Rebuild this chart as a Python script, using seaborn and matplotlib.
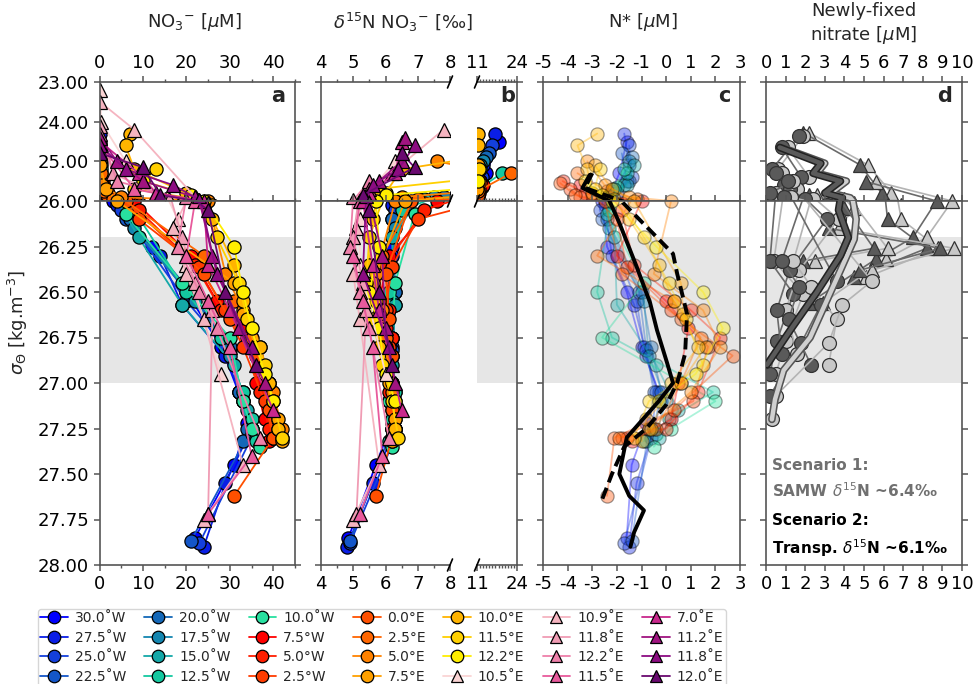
import numpy as np
import pandas as pd
import matplotlib
matplotlib.use("Agg")
import matplotlib.pyplot as plt
import matplotlib.patheffects as pe
from matplotlib.lines import Line2D
from matplotlib.ticker import MultipleLocator, FixedLocator
import seaborn as sns

nan = np.nan

# ---------------- data ----------------
LABELS = ["30.0˚W", "27.5˚W", "25.0˚W", "22.5˚W",
          "20.0˚W", "17.5˚W", "15.0˚W", "12.5˚W",
          "10.0˚W", "7.5°W", "5.0°W", "2.5°W",
          "0.0°E", "2.5°E", "5.0°E", "7.5°E",
          "10.0°E", "11.5°E", "12.2°E", "10.5˚E",
          "10.9˚E", "11.8˚E", "12.2˚E", "11.5˚E",
          "7.0˚E", "11.2˚E", "11.8˚E", "12.0˚E"]
COLORS = ["#0000ff", "#0a1ee6", "#1440dc", "#1456c8",
          "#1468b8", "#1486b0", "#14a8a8", "#14c8a0",
          "#28e0a0", "#ff0000", "#ff1e00", "#ff3c00",
          "#ff5000", "#ff6600", "#ff8200", "#ffa000",
          "#ffb400", "#ffd000", "#ffee00", "#fad4d4",
          "#f5b4c0", "#f09cb4", "#ee80aa", "#e85a9c",
          "#c8288c", "#a01480", "#8c0c82", "#6a0a70"]
MARKERS = ["o"] * 19 + ["^"] * 9

SIGMA = [
    [24.5, 25.3, 25.75, 26.0, 26.25, 26.5, 26.8, 27.05, 27.22, 27.45, 27.85],
    [24.3, 25.1, 25.7, 26.02, 26.3, 26.57, 26.85, 27.1, 27.25, 27.55, 27.9],
    [24.6, 25.4, 25.8, 26.05, 26.55, 26.8, 27.05, 27.3, 27.88],
    [24.8, 25.5, 25.85, 26.1, 26.5, 26.82, 27.05, 27.25, 27.87],
    [24.9, 25.5, 25.9, 26.1, 26.5, 26.8, 27.05, 27.25, 27.32],
    [25.0, 25.6, 25.9, 26.15, 26.55, 26.85, 27.1, 27.28],
    [25.1, 25.6, 25.95, 26.2, 26.57, 26.9, 27.15, 27.3],
    [25.3, 25.65, 26.05, 26.5, 26.75, 27.05, 27.2, 27.32],
    [25.2, 25.7, 26.07, 26.45, 26.75, 27.1, 27.25, 27.35],
    [25.6, 25.85, 26.0, 26.3, 26.55, 26.7, 27.0, 27.2, 27.32],
    [25.5, 25.8, 26.05, 26.35, 26.6, 26.75, 27.05, 27.25, 27.3],
    [25.7, 25.9, 26.1, 26.36, 26.6, 26.8, 27.1, 27.3],
    [25.55, 25.85, 26.0, 26.4, 26.65, 26.85, 27.15, 27.3, 27.62],
    [25.3, 25.75, 25.95, 26.3, 26.55, 26.75, 27.0, 27.25, 27.3],
    [25.0, 25.6, 25.9, 26.0, 26.4, 26.6, 26.8, 27.05, 27.25],
    [25.1, 25.7, 26.0, 26.45, 26.62, 26.8, 27.0, 27.2, 27.32],
    [24.3, 24.6, 25.2, 25.8, 26.1, 26.35, 26.55, 26.8, 27.0, 27.25],
    [25.2, 25.7, 25.95, 26.2, 26.45, 26.65, 26.9, 27.1, 27.3],
    [25.5, 25.85, 26.0, 26.25, 26.5, 26.7, 26.95, 27.1],
    [23.2, 24.0, 25.0, 25.95, 26.1, 26.35, 26.95],
    [23.5, 24.2, 25.9, 26.15, 26.4, 26.65, 27.45, 27.75],
    [24.1, 25.3, 25.95, 26.2, 26.45, 26.6, 27.72],
    [24.3, 25.5, 25.98, 26.25, 26.5, 26.7, 27.3],
    [24.6, 25.7, 26.0, 26.3, 26.55, 26.8, 27.4, 27.72],
    [24.5, 25.3, 25.8, 26.0, 26.35, 26.6, 27.15],
    [24.4, 25.0, 25.5, 25.9, 26.3, 26.7, 27.0],
    [24.6, 25.2, 25.6, 25.97, 26.4, 26.8],
    [24.8, 25.15, 25.85, 26.05, 26.5, 26.9],
]
NO3 = [
    [0.1, 0.3, 0.8, 3, 12, 20, 28, 32, 34, 31, 22],
    [0.1, 0.2, 0.6, 4, 14, 19, 29, 33, 35, 29, 24],
    [0.2, 0.3, 1.0, 5, 20, 29, 33, 35, 23],
    [0.1, 0.4, 1.2, 6, 21, 30, 32, 35, 21],
    [0.2, 0.5, 2, 7, 21, 30, 32, 34, 33],
    [0.3, 0.6, 2.5, 8, 22, 30, 33, 35],
    [0.3, 0.8, 3, 9, 19, 31, 34, 36],
    [0.2, 1.0, 8, 20, 28, 33, 35, 36],
    [0.3, 0.7, 6, 19, 30, 33, 35, 37],
    [0.5, 1.5, 8, 21, 27, 34, 36, 38, 39],
    [0.8, 2, 9, 22, 28, 34, 37, 39, 40],
    [1.2, 2.5, 9, 23, 29, 33, 38, 40],
    [0.5, 1.8, 6, 24, 30, 36, 39, 40, 31],
    [0.3, 1.0, 3, 24, 31, 35, 39, 41, 42],
    [0.2, 0.5, 5, 25, 29, 33, 37, 40, 42],
    [0.2, 1.5, 4, 31, 33, 36, 39, 41, 42],
    [7, 6, 8, 20, 26, 31, 33, 37, 39, 41],
    [13, 8, 22, 27, 32, 34, 38, 40, 42],
    [10, 21, 24, 31, 33, 35, 38, 40],
    [0.2, 0.3, 6, 15, 18, 20, 28],
    [0.1, 8, 22, 17, 20, 24, 33, 24],
    [0.1, 3, 16, 19, 22, 26, 25],
    [0.2, 4, 20, 18, 23, 27, 37],
    [0.3, 8, 22, 20, 25, 30, 35, 25],
    [0.1, 9, 13, 24, 25, 30, 40],
    [0.2, 4, 10, 22, 26, 32, 38],
    [0.1, 6, 17, 23, 27, 35],
    [0.2, 10, 14, 25, 29, 36],
]
D15N = [
    [18, 14, 9.5, 6.3, 6.2, 6.2, 6.1, 6.2, 6.2, 5.7, 4.85],
    [17, 13, 9, 6.2, 6.2, 6.3, 6.2, 6.1, 6.3, 5.6, 4.8],
    [16, 12.5, 8.5, 6.3, 6.2, 6.2, 6.2, 6.3, 4.9],
    [15, 12, 8.2, 6.2, 6.3, 6.2, 6.3, 6.2, 4.9],
    [14, 11.5, 7.8, 6.2, 6.3, 6.1, 6.2, 6.2, 6.2],
    [13, 11, 7.5, 6.3, 6.2, 6.2, 6.1, 6.3],
    [12, 11.5, 7.2, 6.2, 6.3, 6.2, 6.2, 6.2],
    [19, 12.5, 6.5, 6.1, 6.2, 6.3, 6.2, 6.1],
    [12, 11, 6.9, 6.3, 6.2, 6.1, 6.3, 6.2],
    [13, 11, 7.6, 6.1, 5.8, 6.0, 6.2, 6.3, 6.2],
    [12, 11.5, 7.2, 6.0, 6.1, 6.2, 6.1, 6.2, 6.3],
    [11.5, 11.3, 7.0, 6.2, 6.0, 6.1, 6.3, 6.2],
    [12, 11.2, 6.8, 6.0, 6.1, 6.2, 6.2, 6.2, 5.7],
    [22, 11.3, 7.0, 5.9, 5.8, 6.0, 6.2, 6.3, 6.2],
    [7.6, 11.2, 6.5, 6.3, 5.7, 5.9, 6.0, 6.2, 6.3],
    [11.2, 11.1, 6.6, 5.6, 5.8, 5.9, 6.1, 6.3, 6.2],
    [11.3, 11.2, 6.5, 6.0, 5.6, 5.5, 5.7, 5.8, 6.2, 6.3],
    [11.5, 5.7, 6.0, 5.5, 5.4, 5.6, 5.9, 6.2, 6.4],
    [11.4, 6.0, 5.7, 5.8, 5.5, 5.8, 6.0, 6.3],
    [nan, nan, 6.3, 5.3, 5.2, 5.2, 6.0],
    [nan, 7.8, 5.3, 5.1, 5.0, 5.2, 5.8, 5.0],
    [nan, 6.2, 5.2, 5.0, 5.3, 5.4, 5.1],
    [nan, 5.5, 5.0, 4.9, 5.2, 5.5, 6.1],
    [nan, 5.5, 5.2, 5.0, 5.3, 5.6, 5.9, 5.2],
    [6.5, 6.3, 5.5, 5.3, 5.6, 5.8, 6.5],
    [6.6, 6.5, 5.8, 5.4, 5.9, 6.0, 6.3],
    [6.9, 6.4, 5.6, 5.4, 5.3, 6.1],
    [6.5, 6.9, 5.3, 5.5, 5.8, 6.2],
]
NSTAR = [
    [-1.6, -1.9, -2.2, -2.6, -2.4, -1.6, -1.0, -0.3, -0.8, -1.4, -1.6],
    [-1.7, -1.5, -2.1, -2.5, -2.2, -1.3, -0.8, -0.2, -0.5, -1.2, -1.5],
    [-1.5, -1.4, -2.0, -2.7, -1.2, -0.9, -0.4, -0.6, -1.7],
    [-1.8, -1.6, -2.3, -2.6, -1.1, -0.8, -0.5, -0.7, -1.4],
    [-1.4, -1.5, -2.2, -2.4, -1.0, -0.6, -0.2, -0.5, -0.8],
    [-1.5, -1.7, -2.4, -2.3, -0.9, -0.7, 0.0, -0.4],
    [-1.3, -1.6, -2.5, -2.1, -2.0, -0.4, 0.5, -0.3],
    [-1.6, -2.0, -2.3, -2.8, -2.2, 1.9, 0.1, -0.9],
    [-1.7, -2.1, -2.4, -0.9, -2.6, 2.0, 0.2, -0.5],
    [-3.5, -3.0, -1.0, -2.0, 0.0, 0.9, 0.5, 0.2, -1.4],
    [-4.2, -3.3, -1.8, -1.3, 1.0, 2.2, 1.3, 0.0, -1.6],
    [-3.9, -3.5, -2.0, -1.6, 0.2, 1.7, 1.1, -1.8],
    [-4.3, -3.7, -2.5, -1.8, 0.6, 2.7, 0.3, -2.1, -2.4],
    [-3.6, -2.4, -1.2, -2.8, 0.3, 1.4, 0.6, -0.4, -1.9],
    [-3.2, -2.5, -1.5, 0.2, -0.5, 1.5, 2.2, 1.0, -0.7],
    [-2.9, -2.2, -1.3, 0.6, 0.7, 1.6, 0.6, -0.8, -1.0],
    [-2.8, -3.6, -3.2, -3.0, -1.5, -0.3, 0.3, 1.3, 0.2, -0.6],
    [-2.7, -2.9, -2.1, -0.9, 0.1, 0.8, 1.5, -0.7, -1.3],
    [-3.3, -2.6, -2.2, -0.4, 1.5, 2.3, 1.2, -0.3],
    [nan] * 7, [nan] * 8, [nan] * 7, [nan] * 7, [nan] * 8,
    [nan] * 7, [nan] * 7, [nan] * 6, [nan] * 6,
]

# N* mean profiles (panel c)
NS_SOLID_SIG = [25.34, 25.67, 26.0, 26.12, 26.36, 26.56, 26.71, 26.89, 27.0, 27.1, 27.3, 27.5, 27.62, 27.7, 27.82, 27.9]
NS_SOLID_VAL = [-3.1, -3.4, -2.3, -1.9, -1.2, -0.65, -0.37, 0.04, 0.28, -0.3, -1.6, -1.9, -1.5, -0.9, -1.3, -1.45]
NS_DASH_SIG = [25.3, 25.67, 26.01, 26.29, 26.4, 26.62, 26.84, 27.0, 27.12, 27.25, 27.35, 27.5, 27.64]
NS_DASH_VAL = [-3.0, -3.3, -1.75, 0.28, 0.45, 0.85, 0.77, 0.45, 0.0, -0.8, -1.7, -2.2, -2.6]

# Newly-fixed nitrate (panel d): dark = scenario 1, light = scenario 2
D_MARK = ["^", "^", "^", "^", "o", "o", "o", "o"]
D_SIG = [
    [24.28, 25.09, 25.8, 26.1, 26.26, 26.42],
    [25.51, 26.0, 26.2, 26.32, 26.56],
    [25.85, 26.04, 26.15, 26.26, 26.38],
    [25.95, 26.26, 26.33],
    [24.36, 25.2, 25.6, 25.95, 26.33, 26.51, 26.77, 26.95],
    [24.65, 25.4, 25.8, 26.1, 26.38, 26.6, 26.84],
    [25.3, 25.7, 25.95, 26.33, 26.47, 26.65, 26.9],
    [25.5, 25.9, 26.44, 26.57, 26.78, 27.07, 27.2],
]
D_S1 = [
    [1.9, 4.8, 5.9, 6.2, 8.2, 4.5],
    [5.1, 8.7, 7.5, 5.6, 2.2],
    [2.2, 4.0, 3.2, 8.9, 4.8],
    [3.5, 5.5, 1.9],
    [1.7, 0.3, 0.9, 0.5, 0.2, 1.4, 0.55, 0.2],
    [0.8, 1.8, 0.2, 3.1, 1.2, 0.55, 0.8],
    [0.5, 1.2, 2.0, 0.8, 1.7, 1.15, 2.3],
    [1.1, 0.9, 3.6, 2.8, 1.8, 0.2, nan],
]
D_S2 = [
    [2.2, 5.2, 6.4, 6.9, 8.8, 5.1],
    [5.6, 9.5, 8.2, 6.1, 2.9],
    [2.6, 4.5, 3.7, 9.6, 5.4],
    [4.0, 6.2, 2.5],
    [1.9, 0.6, 1.2, 0.9, 0.4, 1.9, 1.0, 0.5],
    [1.1, 2.2, 0.5, 3.7, 1.7, 1.0, 1.6],
    [0.8, 1.6, 2.4, 1.4, 2.3, 3.6, 3.2],
    [1.4, 1.3, 5.4, 3.9, 3.2, 0.5, 0.3],
]
D_LINE1_SIG = [24.65, 25.05, 25.3, 25.5, 25.8, 25.92, 26.05, 26.2, 26.3, 26.5, 26.7, 26.9]
D_LINE1_VAL = [0.7, 2.8, 2.4, 3.8, 3.0, 3.9, 3.7, 4.2, 3.8, 2.6, 1.3, 0.05]
D_LINE2_SIG = [24.65, 25.05, 25.3, 25.5, 25.8, 25.92, 26.1, 26.21, 26.38, 26.75, 26.93, 27.09, 27.2]
D_LINE2_VAL = [0.8, 3.0, 2.6, 4.1, 3.3, 4.3, 4.6, 4.5, 3.8, 2.25, 0.9, 0.46, 0.3]

# ---------------- figure ----------------
sns.set_theme(style="ticks")
plt.rcParams['font.family'] = ['DejaVu Sans']
plt.rcParams['mathtext.fontset'] = 'dejavusans'
plt.rcParams['axes.unicode_minus'] = False

W, H = 975, 684
fig = plt.figure(figsize=(W / 100, H / 100), dpi=100)
Y_TOP, Y_MID, Y_BOT = 82, 201, 565
SPINE = '#555555'


def pax(x0, x1, y0, y1):
    return fig.add_axes([x0 / W, 1 - y1 / H, (x1 - x0) / W, (y1 - y0) / H])


def style(ax, upper, left_lbl=False, yleft=True, yright=True):
    for s in ax.spines.values():
        s.set_color(SPINE)
        s.set_linewidth(1.2)
    ax.tick_params(colors=SPINE, labelcolor='black', labelsize=13, width=1.1,
                   length=4, direction='out', which='major')
    ax.tick_params(colors=SPINE, width=1.0, length=2.5, direction='out', which='minor')
    if upper:
        ax.set_ylim(26, 23)
        ax.yaxis.set_major_locator(FixedLocator([23, 24, 25]))
        ax.tick_params(axis='x', which='both', top=True, bottom=False, labeltop=True, labelbottom=False)
    else:
        ax.set_ylim(28, 26)
        ax.yaxis.set_major_locator(FixedLocator(list(np.arange(26, 28.01, 0.25))))
        ax.tick_params(axis='x', which='both', top=True, bottom=True, labeltop=False, labelbottom=True)
        ax.axhspan(26.2, 27.0, color='#e6e6e6', zorder=0, lw=0)
    ax.yaxis.set_major_formatter(plt.FormatStrFormatter('%.2f'))
    ax.tick_params(axis='y', left=yleft, right=yright, labelleft=left_lbl, labelright=False)
    ax.set_facecolor('white')


def draw_profiles(ax, values, alpha=1.0, ms=9.5):
    for i in range(len(LABELS)):
        df = pd.DataFrame({'v': values[i], 's': SIGMA[i]}).dropna()
        if df.empty:
            continue
        sns.lineplot(data=df, x='v', y='s', sort=False, estimator=None, ax=ax,
                     color=COLORS[i], marker=MARKERS[i], markersize=ms,
                     markeredgecolor='black', markeredgewidth=0.9, lw=1.3,
                     alpha=alpha, legend=False)
    ax.set_xlabel('')
    ax.set_ylabel('')


# panel geometry (pixels)
A_X = (99.5, 295)
BL_X = (321, 450)
BR_X = (477, 517)
C_X = (543, 740)
D_X = (766, 962)

axes = {}
for name, xr in [('a', A_X), ('bl', BL_X), ('br', BR_X), ('c', C_X), ('d', D_X)]:
    axes[name] = (pax(xr[0], xr[1], Y_TOP, Y_MID), pax(xr[0], xr[1], Y_MID, Y_BOT))

# Panel a
for k, ax in enumerate(axes['a']):
    draw_profiles(ax, NO3)
    style(ax, upper=(k == 0), left_lbl=True)
    ax.set_xlim(0, 45)
    ax.xaxis.set_major_locator(FixedLocator([0, 10, 20, 30, 40]))
    ax.xaxis.set_minor_locator(FixedLocator([5, 15, 25, 35, 45]))

# Panel b
for k, ax in enumerate(axes['bl']):
    draw_profiles(ax, D15N)
    style(ax, upper=(k == 0), yright=False)
    ax.set_xlim(4, 8)
    ax.xaxis.set_major_locator(FixedLocator([4, 5, 6, 7, 8]))
    ax.xaxis.set_minor_locator(MultipleLocator(0.5))
    ax.spines['right'].set_visible(False)
for k, ax in enumerate(axes['br']):
    draw_profiles(ax, D15N)
    style(ax, upper=(k == 0), yleft=False)
    ax.set_xlim(11, 24)
    ax.xaxis.set_major_locator(FixedLocator([11, 24]))
    ax.xaxis.set_minor_locator(MultipleLocator(1))
    ax.spines['left'].set_visible(False)

# break marks
for xp in (BL_X[1], BR_X[0]):
    for yp in (Y_TOP, Y_MID, Y_BOT):
        fig.add_artist(Line2D([(xp - 2.5) / W, (xp + 2.5) / W],
                              [1 - (yp + 6) / H, 1 - (yp - 6) / H],
                              transform=fig.transFigure, color='black', lw=1.2))

# Panel c
for k, ax in enumerate(axes['c']):
    draw_profiles(ax, NSTAR, alpha=0.38)
    sns.lineplot(x=NS_SOLID_VAL, y=NS_SOLID_SIG, sort=False, estimator=None, ax=ax,
                 color='black', lw=2.8, zorder=10)
    sns.lineplot(x=NS_DASH_VAL, y=NS_DASH_SIG, sort=False, estimator=None, ax=ax,
                 color='black', lw=2.8, ls=(0, (3, 1.5)), zorder=10)
    ax.set_xlabel('')
    ax.set_ylabel('')
    style(ax, upper=(k == 0))
    ax.set_xlim(-5, 3)
    ax.xaxis.set_major_locator(MultipleLocator(1))

# Panel d
for k, ax in enumerate(axes['d']):
    for i in range(len(D_SIG)):
        for vals, col, lc in [(D_S2, '#c8c8c8', '#b4b4b4'), (D_S1, '#5a5a5a', '#6a6a6a')]:
            df = pd.DataFrame({'v': vals[i], 's': D_SIG[i]}).dropna()
            sns.lineplot(data=df, x='v', y='s', sort=False, estimator=None, ax=ax,
                         color=lc, marker=D_MARK[i], markersize=10,
                         markerfacecolor=col, markeredgecolor='#333333',
                         markeredgewidth=0.9, lw=1.2, legend=False)
    l2, = ax.plot(D_LINE2_VAL, D_LINE2_SIG, color='#d0d0d0', lw=3.2, zorder=10)
    l2.set_path_effects([pe.Stroke(linewidth=5.5, foreground='#555555'), pe.Normal()])
    l1, = ax.plot(D_LINE1_VAL, D_LINE1_SIG, color='#5a5a5a', lw=3.2, zorder=11)
    l1.set_path_effects([pe.Stroke(linewidth=5.5, foreground='#222222'), pe.Normal()])
    ax.set_xlabel('')
    ax.set_ylabel('')
    style(ax, upper=(k == 0))
    ax.set_xlim(0, 10)
    ax.xaxis.set_major_locator(MultipleLocator(1))

# panel letters
for name, letter in [('a', 'a'), ('br', 'b'), ('c', 'c'), ('d', 'd')]:
    axes[name][0].text(0.95, 0.88, letter, transform=axes[name][0].transAxes,
                       ha='right', va='center', fontsize=15, fontweight='bold')

# titles
fig.text(194 / W, 1 - 22 / H, 'NO$_3$$^{-}$ [$\\mu$M]', ha='center', va='center', fontsize=13)
fig.text(403 / W, 1 - 22 / H, '$\\delta^{15}$N NO$_3$$^{-}$ [‰]', ha='center', va='center', fontsize=13)
fig.text(643 / W, 1 - 22 / H, 'N* [$\\mu$M]', ha='center', va='center', fontsize=13)
fig.text(864 / W, 1 - 24 / H, 'Newly-fixed\nnitrate [$\\mu$M]', ha='center', va='center',
         fontsize=13, linespacing=1.3)
fig.text(18 / W, 1 - 322 / H, '$\\sigma_{\\Theta}$ [kg.m$^{-3}$]', rotation=90,
         ha='center', va='center', fontsize=13)

# scenario text
fig.text(772 / W, 1 - 479 / H, 'Scenario 1:\nSAMW $\\delta^{15}$N ~6.4‰', color='#707070',
         fontsize=11, fontweight='bold', ha='left', va='center', linespacing=1.5)
fig.text(772 / W, 1 - 536 / H, 'Scenario 2:\nTransp. $\\delta^{15}$N ~6.1‰', color='black',
         fontsize=11, fontweight='bold', ha='left', va='center', linespacing=1.5)

# legend
handles = [Line2D([0], [0], color=COLORS[i], marker=MARKERS[i], markersize=9,
                  markeredgecolor='black', markeredgewidth=0.9, lw=1.3)
           for i in range(len(LABELS))]
leg = fig.legend(handles, LABELS, ncol=7, loc='upper left',
                 bbox_to_anchor=(38 / W, 1 - 609 / H), fontsize=10, frameon=True,
                 handlelength=2.0, columnspacing=1.3, handletextpad=0.5,
                 labelspacing=0.4, borderaxespad=0, fancybox=True, borderpad=0.15)
leg.get_frame().set_edgecolor('#cccccc')

fig.savefig('out.png', dpi=100)
